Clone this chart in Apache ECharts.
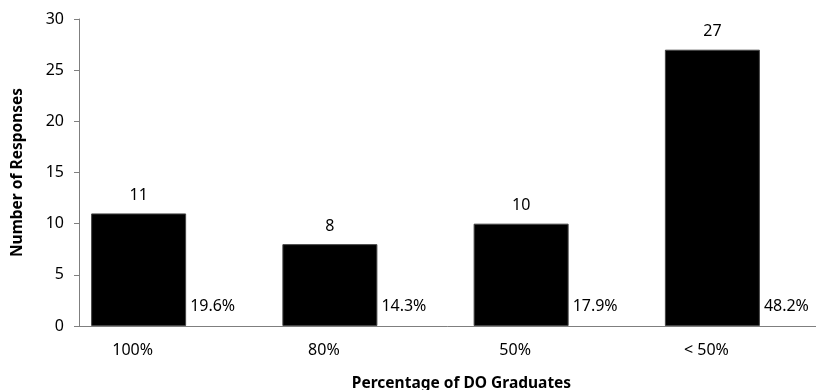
<!DOCTYPE html>
<html>
<head>
<meta charset="utf-8">
<script src="https://cdn.jsdelivr.net/npm/echarts@6/dist/echarts.min.js"></script>
<style>
  html, body { margin: 0; padding: 0; background: #fff; }
  #chart { width: 816px; height: 390px; }
</style>
</head>
<body>
<div id="chart"></div>
<script>
  // data
  var categories = ['100%', '80%', '50%', '< 50%']
  var counts = [11, 8, 10, 27]
  var shares = ['19.6%', '14.3%', '17.9%', '48.2%']

  var font = '"Noto Sans", sans-serif'
  var myChart = echarts.init(document.getElementById('chart'))
  myChart.setOption({
    animation: false,
    textStyle: { fontFamily: font },
    grid: {
      left: 79,
      top: 19,
      width: 765,
      height: 307,
      containLabel: false,
      outerBoundsMode: 'none'
    },
    xAxis: {
      type: 'category',
      data: categories,
      name: 'Percentage of DO Graduates',
      nameLocation: 'middle',
      nameGap: 50,
      nameTextStyle: { fontSize: 15.5, fontWeight: 'bold', color: '#000', fontFamily: font },
      axisLine: { lineStyle: { color: '#7f7f7f', width: 1 } },
      axisTick: { show: false },
      axisLabel: {
        fontSize: 16,
        color: '#000',
        margin: 16,
        padding: [0, 84, 0, 0]
      }
    },
    yAxis: {
      type: 'value',
      min: 0,
      max: 30,
      interval: 5,
      name: 'Number of Responses',
      nameLocation: 'middle',
      nameGap: 53,
      nameTextStyle: { fontSize: 15.5, fontWeight: 'bold', color: '#000', fontFamily: font },
      axisLine: { show: true, lineStyle: { color: '#7f7f7f', width: 1 } },
      axisTick: { show: true, length: 5, lineStyle: { color: '#7f7f7f' } },
      splitLine: { show: false },
      axisLabel: { fontSize: 16, color: '#000', margin: 15 }
    },
    series: [
      {
        name: 'Responses',
        type: 'bar',
        data: counts,
        barWidth: 95,
        barGap: '0%',
        itemStyle: { color: '#000', borderColor: '#444', borderWidth: 1 },
        label: { show: true, position: 'top', distance: 10, fontSize: 16, color: '#000' }
      },
      {
        // invisible companion bar that carries the percentage label
        name: 'Share',
        type: 'bar',
        data: counts,
        barWidth: 72,
        itemStyle: { color: 'rgba(0,0,0,0)' },
        label: {
          show: true,
          position: 'insideBottomLeft',
          distance: 4,
          offset: [0, -8],
          fontSize: 16,
          color: '#000',
          formatter: function (p) { return shares[p.dataIndex] }
        }
      }
    ]
  })
</script>
</body>
</html>
